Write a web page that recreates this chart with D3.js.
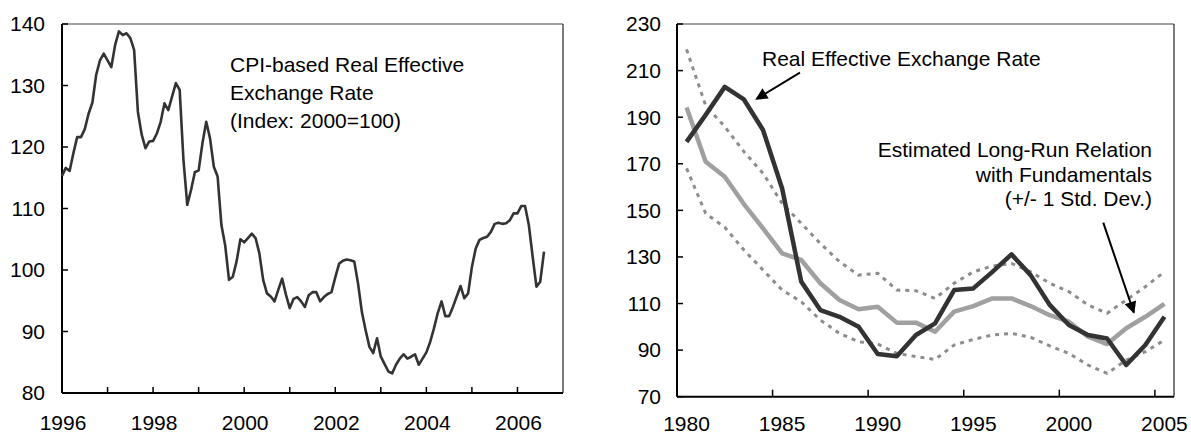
<!DOCTYPE html>
<html>
<head>
<meta charset="utf-8">
<script src="https://cdn.jsdelivr.net/npm/d3@7"></script>
<style>
  body { margin: 0; background: #fff; }
  svg { display: block; font-family: "Liberation Sans", Arial, sans-serif; }
</style>
</head>
<body>
<div id="d3_div"></div>
<script>
// left panel: monthly CPI-based REER, Jan 1996 .. Aug 2006
const leftStart = 1996;
const leftValues = [
  115.3, 116.6, 116.1, 119.0, 121.6, 121.6, 122.9, 125.4, 127.2, 131.7, 134.1, 135.2,
  134.1, 133.0, 136.6, 138.8, 138.2, 138.5, 137.7, 135.8, 125.7, 122.0, 119.8, 120.9,
  121.0, 122.2, 124.1, 127.1, 126.0, 128.2, 130.4, 129.3, 117.9, 110.6, 113.0, 115.9,
  116.2, 120.6, 124.1, 121.4, 116.8, 115.2, 107.3, 104.0, 98.4, 98.9, 101.4, 105.0,
  104.5, 105.2, 105.9, 105.2, 102.7, 98.4, 96.2, 95.7, 94.9, 96.8, 98.6, 96.0,
  93.8, 95.3, 95.6, 94.9, 94.0, 95.9, 96.4, 96.4, 94.9, 95.6, 96.1, 96.4,
  98.8, 101.0, 101.5, 101.7, 101.6, 101.4, 97.8, 93.2, 90.2, 87.5, 86.5, 88.9,
  85.9, 84.7, 83.5, 83.2, 84.6, 85.6, 86.3, 85.6, 85.9, 86.3, 84.6, 85.6,
  86.6, 88.3, 90.5, 93.0, 94.9, 92.5, 92.5, 94.0, 95.7, 97.4, 95.4, 96.2,
  100.5, 103.5, 104.9, 105.2, 105.4, 106.2, 107.5, 107.7, 107.5, 107.6, 108.1, 109.2,
  109.2, 110.4, 110.4, 107.3, 102.2, 97.3, 98.1, 103.0
];
const leftYTicks = [80, 90, 100, 110, 120, 130, 140];
const leftXLabels = [1996, 1998, 2000, 2002, 2004, 2006];
const leftNote = ["CPI-based Real Effective", "Exchange Rate", "(Index: 2000=100)"];

// right panel: annual 1980 .. 2005
const years = d3.range(1980, 2006);
const reer = [179.4, 191.0, 203.0, 197.6, 184.5, 159.4, 119.4, 107.2, 104.3, 100.0, 88.3, 87.4, 96.5,
  101.5, 115.8, 116.5, 123.6, 131.1, 122.2, 109.4, 100.8, 96.5, 95.0, 83.6, 92.2, 104.3];
const fundamentals = [194.2, 170.9, 164.4, 152.7, 142.3, 131.5, 128.7, 118.7, 111.5, 107.5, 108.6, 101.8, 101.8,
  97.9, 106.5, 108.9, 112.2, 112.2, 108.9, 105.0, 102.2, 95.8, 92.6, 99.4, 104.3, 109.8];
const upperBand = [219.1, 195.0, 185.9, 175.2, 165.9, 153.0, 144.4, 135.8, 128.0, 122.2, 123.0, 115.8, 115.5,
  112.2, 118.7, 123.6, 126.1, 127.2, 123.6, 118.7, 115.1, 109.4, 105.8, 111.5, 117.2, 123.6];
const lowerBand = [168.0, 148.7, 142.7, 133.0, 124.4, 115.8, 110.8, 102.9, 97.2, 93.6, 92.6, 88.6, 87.2,
  86.0, 92.2, 94.6, 96.5, 97.2, 95.5, 91.8, 88.6, 83.6, 80.0, 85.7, 89.3, 94.3];
const rightYTicks = [70, 90, 110, 130, 150, 170, 190, 210, 230];
const rightXLabels = [1980, 1985, 1990, 1995, 2000, 2005];
const reerNote = "Real Effective Exchange Rate";
const fundNote = ["Estimated Long-Run Relation", "with Fundamentals", "(+/- 1 Std. Dev.)"];

const W = 1191, H = 436;
const fontSize = 21;

const svg = d3.select("#d3_div").append("svg")
  .attr("width", W).attr("height", H);

svg.append("defs").append("marker")
  .attr("id", "head")
  .attr("viewBox", "0 0 10 10")
  .attr("refX", 9).attr("refY", 5)
  .attr("markerWidth", 16).attr("markerHeight", 12)
  .attr("markerUnits", "userSpaceOnUse")
  .attr("orient", "auto")
  .append("path")
  .attr("d", "M0,0L10,5L0,10z")
  .attr("fill", "#000");

// frame: gray top, dark right, black axes, inward ticks
let drawFrame = function (g, x0, x1, y0, y1) {
  g.append("line").attr("x1", x0).attr("x2", x1).attr("y1", y0).attr("y2", y0)
    .attr("stroke", "#808080").attr("stroke-width", 1.5);
  g.append("line").attr("x1", x1).attr("x2", x1).attr("y1", y0).attr("y2", y1)
    .attr("stroke", "#222").attr("stroke-width", 1.2);
  g.append("line").attr("x1", x0).attr("x2", x0).attr("y1", y0).attr("y2", y1)
    .attr("stroke", "#000").attr("stroke-width", 2);
  g.append("line").attr("x1", x0).attr("x2", x1).attr("y1", y1).attr("y2", y1)
    .attr("stroke", "#000").attr("stroke-width", 2);
}

// ---------- left panel ----------
{
  const left = 62, right = 563, top = 24, bottom = 393;
  const x = d3.scaleLinear().domain([1996, 2007]).range([left, right]);
  const y = d3.scaleLinear().domain([80, 140]).range([bottom, top]);
  const g = svg.append("g");

  drawFrame(g, left, right, top, bottom);

  // y ticks (inward) and labels
  g.selectAll(".ytick").data(leftYTicks).join("line")
    .attr("x1", left).attr("x2", left + 6)
    .attr("y1", d => y(d)).attr("y2", d => y(d))
    .attr("stroke", "#000").attr("stroke-width", 1.5);
  g.selectAll(".ylab").data(leftYTicks).join("text")
    .attr("x", left - 17).attr("y", d => y(d))
    .attr("dy", "0.35em").attr("text-anchor", "end")
    .attr("font-size", fontSize).text(d => d);

  // yearly ticks pointing up
  g.selectAll(".xtick").data(d3.range(1997, 2007)).join("line")
    .attr("x1", d => x(d)).attr("x2", d => x(d))
    .attr("y1", bottom).attr("y2", bottom - 6)
    .attr("stroke", "#000").attr("stroke-width", 1.5);
  g.selectAll(".xlab").data(leftXLabels).join("text")
    .attr("x", d => x(d) + 1).attr("y", 430)
    .attr("text-anchor", "middle")
    .attr("font-size", fontSize).text(d => d);

  const line = d3.line()
    .x((d, i) => x(leftStart + i / 12))
    .y(d => y(d));
  g.append("path").datum(leftValues)
    .attr("d", line)
    .attr("fill", "none")
    .attr("stroke", "#333")
    .attr("stroke-width", 2.6)
    .attr("stroke-linejoin", "round");

  g.append("text")
    .attr("x", 230).attr("y", 72)
    .attr("font-size", fontSize)
    .selectAll("tspan").data(leftNote).join("tspan")
    .attr("x", 230).attr("dy", (d, i) => i ? 27.8 : 0)
    .text(d => d);
}

// ---------- right panel ----------
{
  const left = 677, right = 1174, top = 24, bottom = 396.7;
  const x = d3.scaleLinear().domain([1980, 2006]).range([left, right]);
  const y = d3.scaleLinear().domain([70, 230]).range([bottom, top]);
  const g = svg.append("g");

  drawFrame(g, left, right, top, bottom);

  g.selectAll(".ytick").data(rightYTicks).join("line")
    .attr("x1", left).attr("x2", left + 6)
    .attr("y1", d => y(d)).attr("y2", d => y(d))
    .attr("stroke", "#000").attr("stroke-width", 1.5);
  g.selectAll(".ylab").data(rightYTicks).join("text")
    .attr("x", left - 16).attr("y", d => y(d))
    .attr("dy", "0.35em").attr("text-anchor", "end")
    .attr("font-size", fontSize).text(d => d);

  // ticks sit on category boundaries, labels at category centres
  g.selectAll(".xtick").data(d3.range(1985, 2006, 5)).join("line")
    .attr("x1", d => x(d)).attr("x2", d => x(d))
    .attr("y1", bottom).attr("y2", bottom - 7)
    .attr("stroke", "#000").attr("stroke-width", 1.5);
  g.selectAll(".xlab").data(rightXLabels).join("text")
    .attr("x", d => x(d + 0.5)).attr("y", 431)
    .attr("text-anchor", "middle")
    .attr("font-size", fontSize).text(d => d);

  const line = d3.line()
    .x((d, i) => x(years[i] + 0.5))
    .y(d => y(d));

  [upperBand, lowerBand].forEach(band => {
    g.append("path").datum(band)
      .attr("d", line)
      .attr("fill", "none")
      .attr("stroke", "#8c8c8c")
      .attr("stroke-width", 3)
      .attr("stroke-dasharray", "4,5");
  });

  g.append("path").datum(fundamentals)
    .attr("d", line)
    .attr("fill", "none")
    .attr("stroke", "#a0a0a0")
    .attr("stroke-width", 4.5)
    .attr("stroke-linejoin", "round");

  g.append("path").datum(reer)
    .attr("d", line)
    .attr("fill", "none")
    .attr("stroke", "#333")
    .attr("stroke-width", 4.5)
    .attr("stroke-linejoin", "round");

  // annotations
  g.append("text")
    .attr("x", 762).attr("y", 66)
    .attr("font-size", fontSize).text(reerNote);

  g.append("text")
    .attr("x", 1152).attr("y", 157)
    .attr("text-anchor", "end")
    .attr("font-size", fontSize)
    .selectAll("tspan").data(fundNote).join("tspan")
    .attr("x", 1152).attr("dy", (d, i) => i ? 24.5 : 0)
    .text(d => d);

  // arrows, anchored in data units
  const arrows = [
    [[1986.43, 209.1], [1984.15, 197.8]],
    [[2002.3, 144.7], [2003.9, 106.1]]
  ];
  g.selectAll(".arrow").data(arrows).join("line")
    .attr("x1", d => x(d[0][0])).attr("y1", d => y(d[0][1]))
    .attr("x2", d => x(d[1][0])).attr("y2", d => y(d[1][1]))
    .attr("stroke", "#000").attr("stroke-width", 2)
    .attr("marker-end", "url(#head)");
}
</script>
</body>
</html>
